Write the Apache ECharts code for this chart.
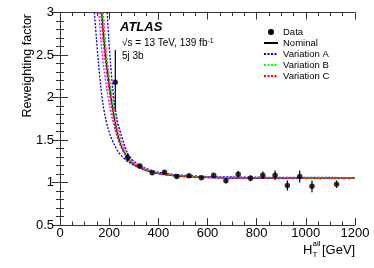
<!DOCTYPE html>
<html>
<head>
<meta charset="utf-8">
<script src="https://cdn.jsdelivr.net/npm/echarts@6/dist/echarts.min.js"></script>
<style>html,body{margin:0;padding:0;background:#fff}#c{width:374px;height:268px}</style>
</head>
<body>
<div id="c"></div>
<script>
// ---- data ----
const binCenters = [225, 275, 325, 375, 425, 475, 525, 575, 625, 675, 725, 775, 825, 875, 925, 975, 1025, 1125];
const dataValues = [2.18, 1.29, 1.195, 1.115, 1.12, 1.072, 1.078, 1.057, 1.085, 1.02, 1.096, 1.05, 1.085, 1.085, 0.965, 1.07, 0.955, 0.98];
const errLow  = [0.33, 0.05, 0.02, 0.02, 0.02, 0.02, 0.02, 0.02, 0.025, 0.03, 0.04, 0.035, 0.045, 0.055, 0.06, 0.07, 0.07, 0.045];
const errHigh = [0.38, 0.05, 0.02, 0.02, 0.02, 0.02, 0.02, 0.02, 0.025, 0.03, 0.04, 0.035, 0.045, 0.055, 0.06, 0.07, 0.07, 0.045];

const nominalCurve = [[170,3.0],[180,2.65],[190,2.38],[200,2.16],[210,1.96],[220,1.78],[235,1.57],[250,1.43],[265,1.34],[280,1.27],[300,1.215],[325,1.175],[350,1.145],[375,1.125],[400,1.108],[450,1.087],[500,1.073],[600,1.06],[700,1.055],[800,1.053],[1000,1.051],[1200,1.05]];
const variationA1 = [[140,3.0],[148,2.7],[156,2.42],[166,2.12],[175,1.92],[185,1.76],[195,1.64],[205,1.55],[220,1.45],[237,1.36],[255,1.3],[277,1.245],[300,1.205],[325,1.17],[350,1.14],[375,1.12],[400,1.104],[450,1.083],[500,1.07],[600,1.057],[800,1.05],[1200,1.048]];
const variationA2 = [[192,3.0],[198,2.7],[205,2.42],[214,2.12],[222,1.93],[231,1.76],[240,1.65],[248,1.57],[260,1.46],[271,1.37],[285,1.3],[300,1.25],[325,1.2],[350,1.165],[375,1.14],[400,1.122],[450,1.1],[500,1.086],[600,1.07],[800,1.062],[1200,1.058]];
const variationM1 = [[158,3.0],[168,2.62],[178,2.35],[190,2.11],[203,1.88],[215,1.72],[230,1.56],[248,1.42],[265,1.33],[282,1.27],[300,1.22],[350,1.15],[400,1.11],[500,1.077],[600,1.064],[800,1.058],[1200,1.055]];
const variationM2 = [[176,3.0],[186,2.62],[198,2.3],[210,2.05],[222,1.85],[237,1.64],[252,1.48],[268,1.37],[285,1.29],[300,1.24],[350,1.155],[400,1.113],[500,1.077],[600,1.062],[1200,1.052]];
const variationB = [[172,3.0],[182,2.66],[192,2.39],[202,2.17],[212,1.97],[222,1.79],[236,1.58],[251,1.44],[266,1.34],[281,1.27],[300,1.22],[325,1.177],[350,1.147],[375,1.127],[400,1.11],[450,1.089],[500,1.075],[600,1.062],[700,1.057],[800,1.055],[1000,1.053],[1200,1.052]];
const variationC = [[166,3.0],[176,2.66],[186,2.38],[196,2.16],[206,1.96],[216,1.78],[231,1.57],[247,1.43],[262,1.34],[278,1.27],[300,1.21],[325,1.17],[350,1.142],[375,1.122],[400,1.106],[450,1.085],[500,1.071],[600,1.059],[700,1.054],[800,1.052],[1000,1.05],[1200,1.049]];

const xTicks = {min: 0, max: 1200, interval: 200};
const yTicks = {min: 0.5, max: 3, interval: 0.5};

// ---- chart ----
const FONT = 'Liberation Sans, Arial, Helvetica, sans-serif';
const chart = echarts.init(document.getElementById('c'), null, {renderer: 'canvas'});

function axisCommon(showLabel, majorLen, minorLen, split, margin) {
  return {
    axisLine: {show: true, lineStyle: {color: '#333', width: 1}},
    axisTick: {show: true, inside: true, length: majorLen, lineStyle: {color: '#333', width: 1}},
    minorTick: {show: true, splitNumber: split, length: minorLen, lineStyle: {color: '#333', width: 1}},
    splitLine: {show: false},
    axisLabel: {show: showLabel, margin: margin, fontFamily: FONT, fontSize: 13, color: '#000',
                formatter: function (v) { return String(v); }}
  };
}

function dashed(name, data, color, z) {
  return {
    name: name, type: 'line', data: data, smooth: 0.3, showSymbol: false, symbol: 'none',
    lineStyle: {color: color, width: 1.3, type: [2, 1.5]}, itemStyle: {color: color},
    z: z, silent: true, clip: true
  };
}

const errData = binCenters.map((x, i) => [x, dataValues[i] - errLow[i], dataValues[i] + errHigh[i]]);
const pts = binCenters.map((x, i) => [x, dataValues[i]]);

const hideSym = {opacity: 0};

const option = {
  animation: false,
  backgroundColor: '#fff',
  grid: {left: 60, right: 19, top: 12.5, bottom: 43},
  xAxis: [
    Object.assign({type: 'value', position: 'bottom', min: xTicks.min, max: xTicks.max, interval: xTicks.interval}, axisCommon(true, 7, 3.5, 4, 2)),
    Object.assign({type: 'value', position: 'top', min: xTicks.min, max: xTicks.max, interval: xTicks.interval}, axisCommon(false, 7, 3.5, 4, 2))
  ],
  yAxis: [
    Object.assign({type: 'value', position: 'left', min: yTicks.min, max: yTicks.max, interval: yTicks.interval}, axisCommon(true, 8, 4, 5, 6)),
    Object.assign({type: 'value', position: 'right', min: yTicks.min, max: yTicks.max, interval: yTicks.interval}, axisCommon(false, 8, 4, 5, 6))
  ],
  legend: {
    orient: 'vertical', left: 263, top: 27, padding: 0, itemGap: 1,
    itemWidth: 14, itemHeight: 6,
    textStyle: {fontFamily: FONT, fontSize: 9.5, color: '#000'},
    data: [
      {name: 'Data', icon: 'circle', itemStyle: {color: '#000', opacity: 1}},
      {name: 'Nominal', itemStyle: hideSym},
      {name: 'Variation A', itemStyle: hideSym},
      {name: 'Variation B', itemStyle: hideSym},
      {name: 'Variation C', itemStyle: hideSym}
    ]
  },
  series: [
    {name: 'Nominal', type: 'line', data: nominalCurve, smooth: 0.3, showSymbol: false, symbol: 'none',
     lineStyle: {color: '#000', width: 1.3}, itemStyle: {color: '#000'}, z: 2, silent: true},
    dashed('Variation A', variationA1, '#0000ff', 3),
    dashed('Variation A', variationA2, '#0000ff', 3),
    dashed('Variation M', variationM1, '#ff00ff', 3),
    dashed('Variation M', variationM2, '#ff00ff', 3),
    dashed('Variation B', variationB, '#00ff00', 4),
    dashed('Variation C', variationC, '#ff0000', 5),
    {name: 'Data', type: 'scatter', data: pts, symbol: 'circle', symbolSize: 5.5,
     itemStyle: {color: '#000'}, z: 10, silent: true},
    {name: 'Data', type: 'custom', data: errData, z: 9, silent: true, itemStyle: {color: '#000'},
     renderItem: function (params, api) {
       const p1 = api.coord([api.value(0), api.value(1)]);
       const p2 = api.coord([api.value(0), api.value(2)]);
       return {type: 'line', shape: {x1: p1[0], y1: p1[1], x2: p2[0], y2: p2[1]},
               style: {stroke: '#000', lineWidth: 1.2}};
     }}
  ],
  graphic: [
    {type: 'text', x: 120, y: 27, style: {text: 'ATLAS', fontFamily: FONT, fontSize: 13, fontWeight: 'bold', fontStyle: 'italic', fill: '#000', verticalAlign: 'middle'}},
    {type: 'text', x: 122, y: 43, style: {text: '√s = 13 TeV, 139 fb{sup|-1}', fontFamily: FONT, fontSize: 10, fill: '#000', verticalAlign: 'middle',
       rich: {sup: {fontFamily: FONT, fontSize: 7, verticalAlign: 'top', fill: '#000'}}}},
    {type: 'text', x: 122, y: 56, style: {text: '5j 3b', fontFamily: FONT, fontSize: 10, fill: '#000', verticalAlign: 'middle'}},
    {type: 'text', x: 28, y: 14, rotation: Math.PI / 2, style: {text: 'Reweighting factor', fontFamily: FONT, fontSize: 12.5, fill: '#000', align: 'right', verticalAlign: 'middle'}},
    {type: 'text', x: 303, y: 250, style: {text: 'H', fontFamily: FONT, fontSize: 13, fill: '#000', verticalAlign: 'middle'}},
    {type: 'text', x: 312.5, y: 244, style: {text: 'all', fontFamily: FONT, fontSize: 8, fill: '#000', verticalAlign: 'middle'}},
    {type: 'text', x: 312.5, y: 255, style: {text: 'T', fontFamily: FONT, fontSize: 8, fill: '#000', verticalAlign: 'middle'}},
    {type: 'text', x: 322, y: 250, style: {text: '[GeV]', fontFamily: FONT, fontSize: 13, fill: '#000', verticalAlign: 'middle'}}
  ]
};
chart.setOption(option);
</script>
</body>
</html>
